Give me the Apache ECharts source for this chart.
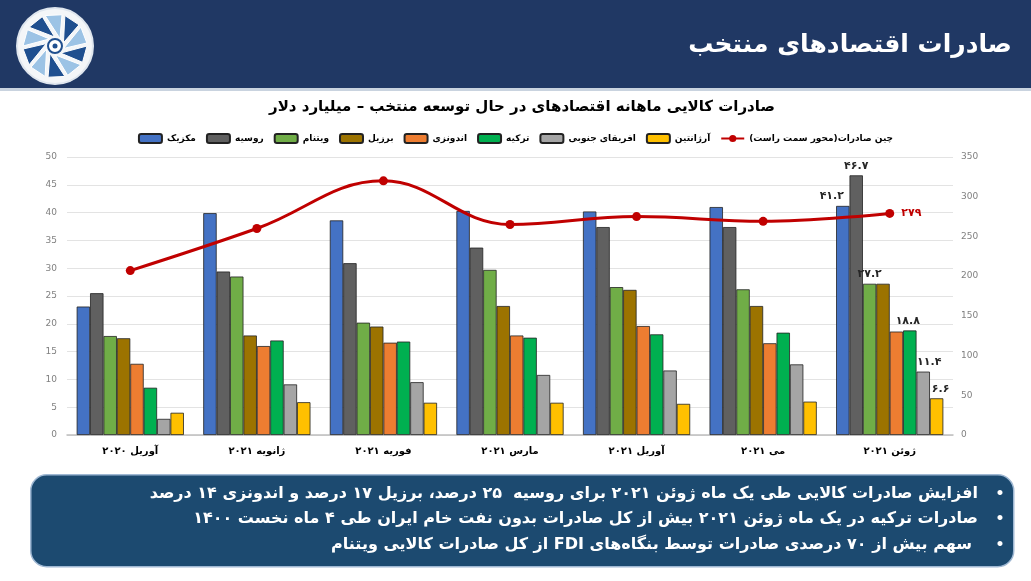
<!DOCTYPE html>
<html>
<head>
<meta charset="utf-8">
<script src="https://cdn.jsdelivr.net/npm/echarts@6/dist/echarts.min.js"></script>
<style>
html,body{margin:0;padding:0;background:#ffffff;}
#main{width:1031px;height:581px;}
</style>
</head>
<body>
<div id="main"></div>
<script>
// ---- data ----
const categories = ['آوریل ۲۰۲۰','ژانویه ۲۰۲۱','فوریه ۲۰۲۱','مارس ۲۰۲۱','آوریل ۲۰۲۱','می ۲۰۲۱','ژوئن ۲۰۲۱'];
const seriesNames = ['مکزیک','روسیه','ویتنام','برزیل','اندونزی','ترکیه','افریقای جنوبی','آرژانتین'];
const mexico      = [23.1, 39.9, 38.6, 40.3, 40.2, 41.0, 41.2];
const russia      = [25.5, 29.4, 30.9, 33.7, 37.4, 37.4, 46.7];
const vietnam     = [17.8, 28.5, 20.2, 29.7, 26.6, 26.2, 27.2];
const brazil      = [17.4, 17.9, 19.5, 23.2, 26.1, 23.2, 27.2];
const indonesia   = [12.8, 16.0, 16.6, 17.9, 19.6, 16.5, 18.6];
const turkey      = [8.5, 17.0, 16.8, 17.5, 18.1, 18.4, 18.8];
const southAfrica = [2.9, 9.1, 9.5, 10.8, 11.6, 12.7, 11.4];
const argentina   = [4.0, 5.9, 5.8, 5.8, 5.6, 6.0, 6.6];
const chinaName   = 'چین صادرات(محور سمت راست)';
const china       = [207, 260, 320, 265, 275, 269, 279];
const leftTicks   = {min: 0, max: 50, interval: 5};
const rightTicks  = {min: 0, max: 350, interval: 50};
const headerTitle = 'صادرات اقتصادهای منتخب';
const chartTitle  = 'صادرات کالایی ماهانه اقتصادهای در حال توسعه منتخب – میلیارد دلار';
const notes = [
  'افزایش صادرات کالایی طی یک ماه ژوئن ۲۰۲۱ برای روسیه  ۲۵ درصد، برزیل ۱۷ درصد و اندونزی ۱۴ درصد',
  'صادرات ترکیه در یک ماه ژوئن ۲۰۲۱ بیش از کل صادرات بدون نفت خام ایران طی ۴ ماه نخست ۱۴۰۰',
  'سهم بیش از ۷۰ درصدی صادرات توسط بنگاه‌های FDI از کل صادرات کالایی ویتنام'
];

// ---- helpers ----
const FONT = 'DejaVu Sans';
const rtl = s => '\u202B' + s + '\u202C';
const fa = s => String(s).replace(/\d/g, d => '۰۱۲۳۴۵۶۷۸۹'[d]);

const barValues = [mexico, russia, vietnam, brazil, indonesia, turkey, southAfrica, argentina];
const colors = ['#4472c4','#606060','#70ad47','#9c7300','#ed7d31','#00b050','#a5a5a5','#ffc000'];
// label offsets for the last-month value labels (null = no label)
const lastLabelOffset = [[-11,0],[0,0],[0,0],null,null,[-2,0],[6,0],[4,0]];

const last = categories.length - 1;
const barSeries = barValues.map((vals, si) => ({
  name: seriesNames[si],
  type: 'bar',
  barGap: '0%',
  barCategoryGap: '15.3%',
  itemStyle: {color: colors[si], borderColor: '#222', borderWidth: 0.8},
  data: vals.map((v, i) => {
    if (i === last && lastLabelOffset[si]) {
      return {value: v, label: {show: true, position: 'top', distance: 4,
        offset: lastLabelOffset[si], formatter: p => fa(p.value),
        fontFamily: FONT, fontWeight: 'bold', fontSize: 11, color: '#262626'}};
    }
    return v;
  })
}));

const lineSeries = {
  name: chinaName,
  type: 'line',
  yAxisIndex: 1,
  smooth: 0.4,
  symbol: 'circle',
  symbolSize: 9,
  z: 5,
  lineStyle: {color: '#c00000', width: 3},
  itemStyle: {color: '#c00000'},
  data: china.map((v, i) => i === last ? {value: v, label: {show: true, position: 'right', distance: 7,
    formatter: p => fa(p.value), fontFamily: FONT, fontWeight: 'bold', fontSize: 11, color: '#c00000'}} : v)
};

// logo pieces
const logoChildren = [{type: 'circle', shape: {cx: 0, cy: 0, r: 38}, style: {fill: '#f4f6f8', stroke: '#dfe6ee', lineWidth: 2}}];
const blades = 10;
for (let i = 0; i < blades; i++) {
  const a0 = i * 2 * Math.PI / blades;
  const a1 = a0 + 2 * Math.PI / blades * 0.85;
  const p = [
    [9 * Math.cos(a0 + 0.9), 9 * Math.sin(a0 + 0.9)],
    [32 * Math.cos(a0), 32 * Math.sin(a0)],
    [32 * Math.cos(a1), 32 * Math.sin(a1)]
  ];
  logoChildren.push({type: 'polygon', shape: {points: p},
    style: {fill: i % 2 ? '#9cc3e5' : '#1f4f8f', stroke: '#ffffff', lineWidth: 1}});
}
logoChildren.push({type: 'circle', shape: {cx: 0, cy: 0, r: 7}, style: {fill: '#ffffff', stroke: '#1f4f8f', lineWidth: 2}});
logoChildren.push({type: 'circle', shape: {cx: 0, cy: 0, r: 2.5}, style: {fill: '#1f4f8f'}});

const graphics = [
  {type: 'rect', left: 0, top: 0, shape: {width: 1031, height: 88}, style: {fill: '#203864'}, z: 0},
  {type: 'rect', left: 0, top: 88, shape: {width: 1031, height: 3}, style: {fill: '#c9d3df'}, z: 0},
  {type: 'group', x: 55, y: 46, children: logoChildren, z: 1},
  {type: 'text', x: 1012, y: 45, style: {text: rtl(headerTitle), fill: '#ffffff', font: 'bold 25px "' + FONT + '"',
    textAlign: 'right', textVerticalAlign: 'middle'}, z: 1},
  {type: 'text', x: 522, y: 107, style: {text: rtl(chartTitle), fill: '#000000', font: 'bold 15px "' + FONT + '"',
    textAlign: 'center', textVerticalAlign: 'middle'}, z: 1},
  {type: 'rect', left: 30, top: 474, shape: {width: 983, height: 92, r: 16},
    style: {fill: '#1c4a70', stroke: '#9fb8d3', lineWidth: 1.5}, z: 0}
];
const noteY = [494, 519, 545];
const noteX = [978, 978, 972];
notes.forEach((t, i) => {
  graphics.push({type: 'text', x: 1000, y: noteY[i], style: {text: '•', fill: '#ffffff', font: 'bold 14px "' + FONT + '"',
    textAlign: 'center', textVerticalAlign: 'middle'}, z: 2});
  graphics.push({type: 'text', x: noteX[i], y: noteY[i], style: {text: rtl(t), fill: '#ffffff', font: 'bold 16px "' + FONT + '"',
    textAlign: 'right', textVerticalAlign: 'middle'}, z: 2});
});

const chart = echarts.init(document.getElementById('main'));
chart.setOption({
  animation: false,
  backgroundColor: '#ffffff',
  textStyle: {fontFamily: FONT},
  graphic: graphics,
  legend: {
    left: 'center', top: 128,
    itemWidth: 23, itemHeight: 9, itemGap: 10,
    data: seriesNames.concat([chinaName]),
    formatter: n => rtl(n),
    textStyle: {fontFamily: FONT, fontWeight: 'bold', fontSize: 9, color: '#000'}
  },
  grid: {left: 67, right: 78, top: 157, bottom: 146, containLabel: false},
  xAxis: {
    type: 'category',
    data: categories,
    axisTick: {show: false},
    axisLine: {lineStyle: {color: '#bfbfbf', width: 1.5}},
    axisLabel: {formatter: v => rtl(v), fontFamily: FONT, fontWeight: 'bold', fontSize: 10, color: '#000', margin: 11}
  },
  yAxis: [
    {type: 'value', min: leftTicks.min, max: leftTicks.max, interval: leftTicks.interval,
     axisLine: {show: false}, axisTick: {show: false},
     splitLine: {lineStyle: {color: '#e3e3e3', width: 1.2}},
     axisLabel: {fontSize: 9, color: '#808080', margin: 10}},
    {type: 'value', min: rightTicks.min, max: rightTicks.max, interval: rightTicks.interval,
     axisLine: {show: false}, axisTick: {show: false}, splitLine: {show: false},
     axisLabel: {fontSize: 9, color: '#808080', margin: 8}}
  ],
  series: barSeries.concat([lineSeries])
});
</script>
</body>
</html>
